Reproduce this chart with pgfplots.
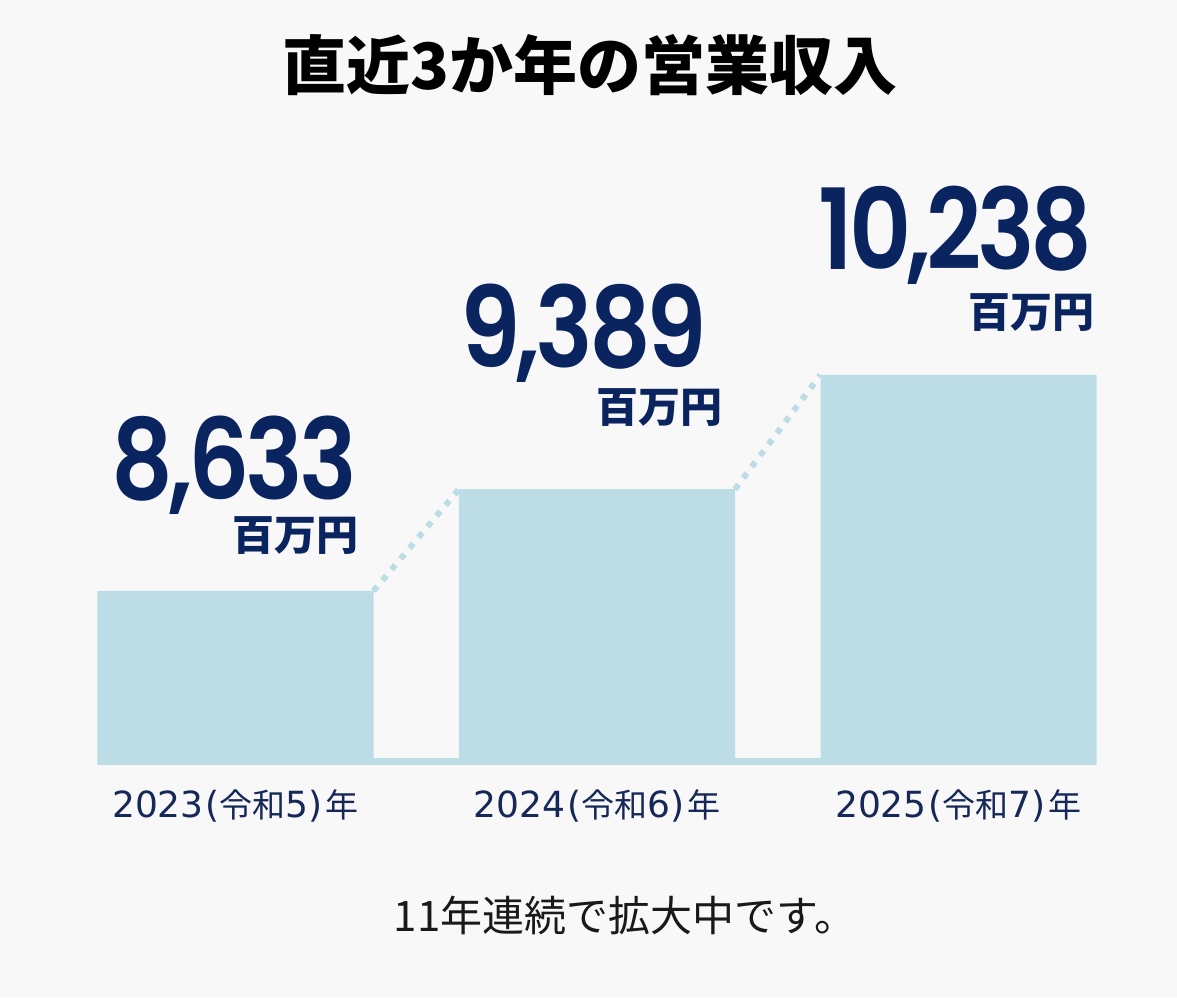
\documentclass[border=0pt]{standalone}
\usepackage{pgfplots}
\pgfplotsset{compat=1.18}
\usepackage{fontspec}
\setmainfont{DejaVu Sans}
\newfontfamily\cjk{Noto Sans CJK JP}
\newfontfamily\numfont{Poppins SemiBold}[FakeStretch=0.86, LetterSpace=-4]
\definecolor{bg}{RGB}{248,248,248}
\definecolor{barc}{RGB}{188,221,230}
\definecolor{navy}{RGB}{10,36,96}
\definecolor{labc}{RGB}{22,40,88}
\newcommand{\yl}[2]{{\fontsize{36}{40}\selectfont #1\hspace{2pt}(}{\cjk\fontsize{33}{36}\selectfont 令和}{\fontsize{36}{40}\selectfont #2)\hspace{3pt}}{\cjk\fontsize{33}{36}\selectfont 年}}
\newcommand{\val}[1]{{\setbox0\hbox{\numfont\fontsize{112}{112}\selectfont #1}\dp0=0pt \box0}}
\newcommand{\unit}{{\setbox0\hbox{\cjk\bfseries\fontsize{42}{42}\selectfont 百万円}\ht0=30pt \box0}}
\begin{document}
\begin{tikzpicture}
\fill[bg] (0,0) rectangle (1177pt,997pt);
\begin{axis}[
  at={(54.75pt,232pt)}, anchor=south west,
  scale only axis, width=1084.5pt, height=600pt,
  xmin=-0.5, xmax=2.5, ymin=7340, ymax=11798,
  axis line style={draw=none}, tick style={draw=none},
  ytick=\empty, xtick={0,1,2},
  xticklabels={\yl{2023}{5},\yl{2024}{6},\yl{2025}{7}},
  xticklabel style={text=labc, anchor=base, yshift=-52pt, inner sep=0pt},
]
\addplot[fill=barc, draw=none] coordinates {(-0.3817,7340) (2.3817,7340) (2.3817,7392) (-0.3817,7392)} --cycle;
\addplot[ybar, bar width=0.7635, bar shift=0pt, fill=barc, draw=none] coordinates {(0,8633) (1,9389) (2,10238)};
\addplot[barc, line width=6pt, dash pattern=on 6pt off 8pt] coordinates {(0.3817,8633) (0.6183,9389)};
\addplot[barc, line width=6pt, dash pattern=on 6pt off 8pt] coordinates {(1.3817,9389) (1.6183,10238)};
\node[anchor=base east, inner sep=0pt, text=navy] at (axis cs:0.3361,9309) {\val{8,633}};
\node[anchor=south east, inner sep=0pt, text=navy] at (axis cs:0.3416,8900) {\unit};
\node[anchor=base east, inner sep=0pt, text=navy] at (axis cs:1.3043,10297) {\val{9,389}};
\node[anchor=south east, inner sep=0pt, text=navy] at (axis cs:1.3485,9851) {\unit};
\node[anchor=base east, inner sep=0pt, text=navy] at (axis cs:2.3721,11018) {\val{10,238}};
\node[anchor=south east, inner sep=0pt, text=navy] at (axis cs:2.3776,10557) {\unit};
\end{axis}
\node[font={\cjk\bfseries\fontsize{64}{64}\selectfont}, anchor=center] at (590pt,932pt) {直近3か年の営業収入};
\node[font={\cjk\fontsize{42}{42}\selectfont}, text=black!90, anchor=center] at (625pt,82pt) {11年連続で拡大中です。};
\end{tikzpicture}
\end{document}
